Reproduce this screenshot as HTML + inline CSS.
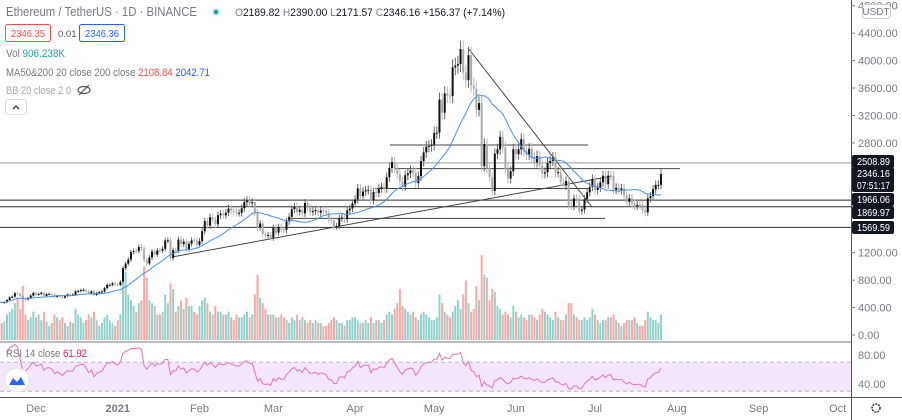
<!DOCTYPE html>
<html><head><meta charset="utf-8"><style>
body{margin:0;background:#fff;font-family:"Liberation Sans",sans-serif;}
#wrap{position:relative;width:902px;height:420px;overflow:hidden;background:#fff}
svg text{font-family:"Liberation Sans",sans-serif}
</style></head><body>
<div id="wrap">
<svg id="chart" width="902" height="420"></svg>
</div>
<script>
const closesNov=[480,472,478,510,548,560,608,603,568,518,517,538,575,615];
const closesDec=[587,598,616,569,596,601,591,555,573,560,545,568,590,586,589,636,643,655,659,638,609,634,584,612,626,635,683,731,731,751,737];
const closesJan=[730,774,975,1041,1100,1208,1225,1224,1281,1262,1090,1043,1130,1218,1171,1233,1230,1256,1377,1382,1121,1236,1230,1391,1324,1362,1252,1330,1380,1378,1314];
const closesFeb=[1369,1514,1660,1594,1718,1677,1614,1746,1768,1744,1783,1843,1814,1800,1779,1781,1848,1937,1960,1919,1935,1781,1570,1626,1475,1446,1459,1416];
const closesMar=[1564,1492,1575,1541,1533,1654,1723,1834,1868,1795,1826,1772,1924,1854,1791,1806,1823,1782,1814,1810,1782,1681,1669,1583,1588,1700,1714,1686,1817,1843,1919];
const closesApr=[1977,2137,2026,2092,2108,2116,1964,2085,2071,2135,2158,2139,2300,2435,2519,2431,2344,2237,2166,2330,2357,2399,2365,2214,2316,2534,2662,2746,2756,2773];
const closesMay=[2945,2950,3431,3241,3522,3490,3484,3902,3928,3952,4168,3826,3715,4079,3643,3588,3282,3380,2460,2783,2431,2301,2100,2643,2706,2888,2736,2420,2280,2387,2707];
const closesJun=[2634,2707,2855,2689,2630,2714,2594,2517,2608,2472,2353,2372,2508,2537,2590,2369,2373,2231,2180,2245,1886,1874,1990,1989,1810,1829,1979,2081,2160,2275];
const closesJul=[2114,2150,2226,2322,2198,2324,2317,2115,2147,2111,2138,2034,1942,1994,1917,1877,1896,1895,1820,1787,1993,2026,2124,2188,2189,2346];
const volNov=[700,600,650,900,1000,1100,1300,1500,1100,1900,900,700,800,1000];
const volDec=[800,900,700,1000,650,500,600,900,800,700,800,600,500,650,600,1100,900,800,600,700,900,800,1000,700,500,600,800,900,700,600,500];
const volJan=[700,900,2000,2400,1600,1400,1200,1000,1300,1400,2600,2200,1400,1300,1200,900,900,1000,1600,1300,2000,1800,1000,1200,1400,1100,1500,1200,1200,1000,900];
const volFeb=[1200,1400,1500,1300,1000,900,1200,1000,1000,900,900,1000,800,700,900,800,800,900,1000,800,900,1600,2300,1500,1300,1100,900,900];
const volMar=[900,800,800,900,800,700,600,800,700,900,700,800,700,600,700,600,700,600,600,500,500,600,700,800,700,600,600,500,700,700,800];
const volApr=[800,700,600,600,700,600,800,600,700,700,600,700,900,1000,900,1100,1300,1800,1200,1100,1000,900,1000,800,700,900,1000,900,800,700];
const volMay=[700,800,1600,1300,1000,900,800,1000,1200,1400,1100,1600,2100,1300,1000,1100,1900,1400,3000,2300,2200,1400,1800,1700,1200,1100,900,1000,900,800,1200];
const volJun=[1000,800,900,800,700,900,900,800,700,900,1100,1000,900,800,700,1000,800,700,700,900,1300,1300,900,800,700,700,800,700,800,1100];
const volJul=[900,700,600,700,700,800,800,900,700,600,500,600,700,700,700,800,600,500,500,700,1000,800,700,700,600,900];
const firstOpen=460;
const priceTicks=[4800,4400,4000,3600,3200,2800,1200,800,400,0];
const rsiTicks=[80,40];
const timeLabels=["Dec","2021","Feb","Mar","Apr","May","Jun","Jul","Aug","Sep","Oct"];
const timeLabelDays=[0,31,62,90,121,151,182,212,243,274,304];
const levelValues=[2508.89,1966.06,1869.97,1569.59];

const closes=[].concat(closesNov,closesDec,closesJan,closesFeb,closesMar,closesApr,closesMay,closesJun,closesJul);
const vols=[].concat(volNov,volDec,volJan,volFeb,volMar,volApr,volMay,volJun,volJul);
const NS="http://www.w3.org/2000/svg";
const svg=document.getElementById('chart');
function el(tag,attrs,parent){const e=document.createElementNS(NS,tag);for(const k in attrs)e.setAttribute(k,attrs[k]);(parent||svg).appendChild(e);return e;}
const xDay=d=>36+d*2.637;
const xIdx=i=>xDay(i-14);
const yP=p=>335-p*0.0686;
const yV=v=>340-v*(85/3000);
const yR=r=>384-(r-40)*0.725;

let band=el('rect',{x:0,y:yR(70),width:851,height:yR(30)-yR(70),fill:'#f3e6fb'});

[70,30].forEach(v=>{let l=el('line',{x1:0,x2:851,y1:yR(v),y2:yR(v),stroke:'#b8b8c0','stroke-dasharray':'4 3','stroke-width':1});
});

const vg=el('g',{});
for(let i=0;i<closes.length&&i<vols.length;i++){
 const o=i?closes[i-1]:firstOpen,c=closes[i];
 const b=el('rect',{x:xIdx(i)-1,y:yV(vols[i]),width:2,height:340-yV(vols[i]),fill:c>=o?'rgba(38,166,154,0.5)':'rgba(239,83,80,0.5)'},vg);
 
}

levelValues.forEach(v=>{const l=el('line',{x1:0,x2:851,y1:yP(v),y2:yP(v),stroke:v===2508.89?'#999':'#333','stroke-width':1});
});
[[390,588,2770],[395,680,2425],[375,590,2135],[290,605,1700]].forEach(a=>{const l=el('line',{x1:a[0],x2:a[1],y1:yP(a[2]),y2:yP(a[2]),stroke:'#444','stroke-width':1});
});
let t1=el('line',{x1:468,y1:48,x2:592,y2:207,stroke:'#444','stroke-width':1});
let t2=el('line',{x1:172,y1:257,x2:612,y2:176,stroke:'#444','stroke-width':1});

const cg=el('g',{});
for(let i=0;i<closes.length;i++){
 const o=i?closes[i-1]:firstOpen,c=closes[i],x=xIdx(i),up=c>=o;
 const hi=Math.max(o,c)*1.03,lo=Math.min(o,c)*0.97;
 const col=up?'#111':'#aaa';
 const w=el('line',{x1:x,x2:x,y1:yP(hi),y2:yP(lo),stroke:up?'#666':'#bbb','stroke-width':1},cg);
 
 const top=yP(Math.max(o,c)),bot=yP(Math.min(o,c));
 const b=el('rect',{x:x-1,y:top,width:2,height:Math.max(1,bot-top),fill:col},cg);
 
}
let pts=[];for(let i=0;i<closes.length;i++){const s=closes.slice(Math.max(0,i-19),i+1);const m=s.reduce((a,b)=>a+b,0)/s.length;pts.push(xIdx(i).toFixed(1)+','+yP(m).toFixed(1));}
let ma=el('polyline',{points:pts.join(' '),fill:'none',stroke:'#4a90e2','stroke-width':1});


let rp=[];let ag=0,al=0;
for(let i=1;i<closes.length;i++){const d=closes[i]-closes[i-1];const g=Math.max(d,0),l=Math.max(-d,0);
 if(i<=14){ag+=g/14;al+=l/14;}else{ag=(ag*13+g)/14;al=(al*13+l)/14;}
 const r=al===0?100:100-100/(1+ag/al);
 if(i>=3)rp.push(xIdx(i).toFixed(1)+','+Math.max(343,Math.min(396,yR(r))).toFixed(1));}
let rl=el('polyline',{points:rp.join(' '),fill:'none',stroke:'#e07ab6','stroke-width':1});


[[0,851,342,342]].forEach(a=>{const l=el('line',{x1:a[0],x2:a[1],y1:a[2],y2:a[3],stroke:'#787b86','stroke-width':1});
});
let bb=el('rect',{x:0,y:398,width:902,height:22,fill:'#fff'});
let bl=el('line',{x1:0,x2:902,y1:397.5,y2:397.5,stroke:'#555'});
let vl=el('line',{x1:851.5,x2:851.5,y1:0,y2:420,stroke:'#555'});

function txt(s,x,y,attrs,name,inter){const t=el('text',Object.assign({x:x,y:y,'font-size':11,fill:'#787b86'},attrs||{}));t.textContent=s;return t;}
priceTicks.forEach(p=>{let k=el('line',{x1:851,x2:855,y1:yP(p),y2:yP(p),stroke:'#787b86'});
 txt(p.toFixed(2),858,yP(p)+4,{},'price-tick-label');});
rsiTicks.forEach(r=>{txt(r.toFixed(2),858,yR(r)+4,{},'rsi-tick-label');});
timeLabels.forEach((s,i)=>{txt(s,xDay(timeLabelDays[i]),412,{'text-anchor':'middle','font-weight':s==='2021'?'bold':'normal'},'time-label');});
let ub=el('rect',{x:862.5,y:4.5,width:28,height:14,rx:3,fill:'#fff',stroke:'#ccc'});
txt('USDT',876,15,{'text-anchor':'middle','font-size':10},'currency-label',true);
function plabel(v,y,two){const r=el('rect',{x:852,y:y-6,width:42,height:two?25:13,rx:2,fill:'#131722'});
 txt(v,857,y+4,{fill:'#fff','font-size':10,textLength:33,lengthAdjust:'spacingAndGlyphs'},'price-label');if(two)txt(two,857,y+16,{fill:'#fff','font-size':10,textLength:33,lengthAdjust:'spacingAndGlyphs'},'countdown-label');}
plabel('2508.89',161);plabel('2346.16',173,'07:51:17');plabel('1966.06',199);plabel('1869.97',212);plabel('1569.59',227);
let gr=el('circle',{cx:876,cy:408,r:4,fill:'none',stroke:'#333','stroke-width':1.5,'stroke-dasharray':'2 1'});

txt('Ethereum / TetherUS · 1D · BINANCE',6,16,{'font-size':12.5,textLength:191,lengthAdjust:'spacingAndGlyphs'},'symbol-title',true);
let dot=el('circle',{cx:216,cy:12,r:5,fill:'#e8f5f3'});
let dot2=el('circle',{cx:216,cy:12,r:2.5,fill:'#26a69a'});
const ohlc=txt('',235,16,{'font-size':11,fill:'#131722',textLength:270,lengthAdjust:'spacingAndGlyphs'},'ohlc-values');
ohlc.innerHTML='<tspan fill="#787b86">O</tspan>2189.82 <tspan fill="#787b86">H</tspan>2390.00 <tspan fill="#787b86">L</tspan>2171.57 <tspan fill="#787b86">C</tspan>2346.16 +156.37 (+7.14%)';
let b1=el('rect',{x:5.5,y:24.5,width:45,height:17,rx:2,fill:'#fff',stroke:'#ef5350'});
txt('2346.35',11,37,{fill:'#ef5350','font-size':10.5,textLength:34,lengthAdjust:'spacingAndGlyphs'},'sell-price',true);
txt('0.01',58,37,{'font-size':9.5,fill:'#555'},'spread');
let b2=el('rect',{x:79.5,y:24.5,width:45,height:17,rx:2,fill:'#fff',stroke:'#2962ff'});
txt('2346.36',85,37,{fill:'#2962ff','font-size':10.5,textLength:34,lengthAdjust:'spacingAndGlyphs'},'buy-price',true);
const vt=txt('',6,57,{'font-size':11,textLength:59,lengthAdjust:'spacingAndGlyphs'},'volume-legend');vt.innerHTML='Vol <tspan fill="#26a69a">906.238K</tspan>';
const mt=txt('',6,76,{'font-size':11,textLength:204,lengthAdjust:'spacingAndGlyphs'},'ma-legend');mt.innerHTML='MA50&amp;200 20 close 200 close <tspan fill="#ef5350">2108.84</tspan> <tspan fill="#2962ff">2042.71</tspan>';
txt('BB 20 close 2 0',6,94,{'font-size':11,fill:'#aaa',textLength:65,lengthAdjust:'spacingAndGlyphs'},'bb-legend');
let eye=el('ellipse',{cx:84,cy:90,rx:6,ry:3.5,fill:'none',stroke:'#555','stroke-width':1.2});
let eyl=el('line',{x1:79,y1:95,x2:89,y2:85,stroke:'#555','stroke-width':1.2});
let cb=el('rect',{x:5.5,y:99.5,width:21,height:15,rx:2,fill:'#fff',stroke:'#ddd'});
let ca=el('polyline',{points:'13,109 16,106 19,109',fill:'none',stroke:'#333','stroke-width':1.3});
const rt=txt('',6,357,{'font-size':11,textLength:81,lengthAdjust:'spacingAndGlyphs'},'rsi-legend');rt.innerHTML='RSI 14 close <tspan fill="#e91e63">61.92</tspan>';
let lg=el('circle',{cx:17,cy:380,r:12,fill:'#fff',stroke:'#e5e5e5'});
let lgp=el('path',{d:'M9,385 L13,378 L17,382 L21,377 L25,385 Z',fill:'#2962ff'});
</script>
</body></html>
